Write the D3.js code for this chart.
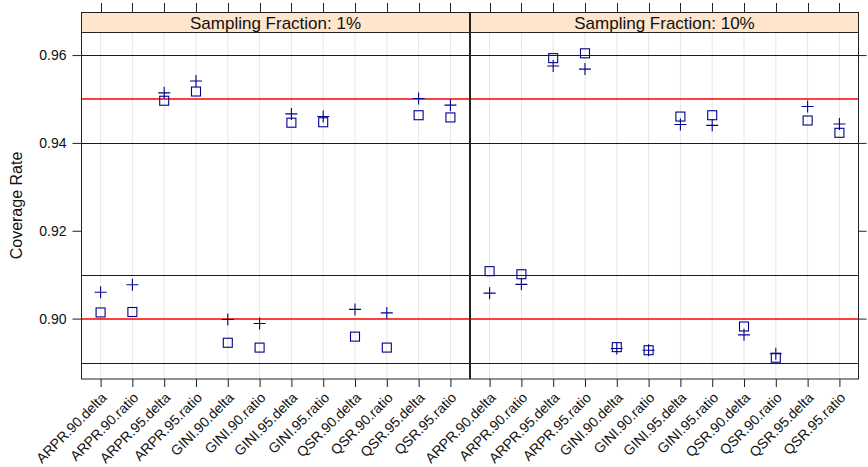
<!DOCTYPE html>
<html>
<head>
<meta charset="utf-8">
<script src="https://cdn.jsdelivr.net/npm/d3@7"></script>
<style>
  html, body { margin: 0; padding: 0; background: #ffffff; }
  svg, svg text { font-family: "Liberation Sans", Arial, Helvetica, sans-serif; }
  svg { display: block; }
</style>
</head>
<body>
<svg id="chart" width="868" height="467"></svg>
<script>
// Interval estimators (indicator . level . method)
const categories = [
  "ARPR.90.delta", "ARPR.90.ratio", "ARPR.95.delta", "ARPR.95.ratio",
  "GINI.90.delta", "GINI.90.ratio", "GINI.95.delta", "GINI.95.ratio",
  "QSR.90.delta", "QSR.90.ratio", "QSR.95.delta", "QSR.95.ratio"
];
const panelTitles = ["Sampling Fraction: 1%", "Sampling Fraction: 10%"];

// Coverage rates, sampling fraction 1%
const plus1   = [0.9060, 0.9077, 0.9514, 0.9541, 0.8998, 0.8989, 0.9466, 0.9460, 0.9021, 0.9013, 0.9501, 0.9486];
const square1 = [0.9014, 0.9015, 0.9496, 0.9517, 0.8945, 0.8934, 0.9446, 0.9447, 0.8959, 0.8934, 0.9463, 0.9458];
// Coverage rates, sampling fraction 10%
const plus10   = [0.9058, 0.9078, 0.9575, 0.9568, 0.8932, 0.8928, 0.9442, 0.9440, 0.8963, 0.8920, 0.9483, 0.9443];
const square10 = [0.9108, 0.9101, 0.9593, 0.9604, 0.8935, 0.8928, 0.9460, 0.9463, 0.8982, 0.8911, 0.9451, 0.9423];

const yTicks = [0.90, 0.92, 0.94, 0.96];
const blackRefs = [0.89, 0.91, 0.94, 0.96];
const redRefs = [0.90, 0.95];

const panels = [
  { title: panelTitles[0], plus: plus1, square: square1 },
  { title: panelTitles[1], plus: plus10, square: square10 }
];

const svg = d3.select("#chart");

const plotTop = 32, plotBottom = 379, stripTop = 12;
const panelX = [[81.5, 469.5], [470.5, 858.5]];

// y range: data extent padded by 7% on each side
const allVals = [].concat(plus1, square1, plus10, square10);
const [vmin, vmax] = d3.extent(allVals);
const pad = (vmax - vmin) * 0.07;
const y = d3.scaleLinear().domain([vmin - pad, vmax + pad]).range([plotBottom, plotTop]);

const markCol = "#00008B";
const fontTick = 14;
const FONT = '"Liberation Sans", Arial, Helvetica, sans-serif';

panels.forEach((p, i) => {
  const [x0, x1] = panelX[i];
  const x = d3.scalePoint().domain(categories).range([x0, x1]).padding(0.6);
  const g = svg.append("g");

  // vertical grid
  g.selectAll("line.grid").data(categories).join("line").attr("class", "grid")
    .attr("x1", d => x(d)).attr("x2", d => x(d))
    .attr("y1", plotTop).attr("y2", plotBottom)
    .attr("stroke", "#e6e6e6").attr("stroke-width", 1);

  // reference lines
  g.selectAll("line.ref-black").data(blackRefs).join("line").attr("class", "ref-black")
    .attr("x1", x0).attr("x2", x1)
    .attr("y1", d => Math.round(y(d)) + 0.5).attr("y2", d => Math.round(y(d)) + 0.5)
    .style("stroke", "#1a1a1a").style("stroke-width", 1);
  g.selectAll("line.ref-red").data(redRefs).join("line").attr("class", "ref-red")
    .attr("x1", x0).attr("x2", x1)
    .attr("y1", d => Math.round(y(d)))
    .attr("y2", d => Math.round(y(d)))
    .style("stroke", "rgb(255,0,0)").style("stroke-width", 1.4);

  // squares
  g.selectAll("rect.sq").data(categories.map((c, k) => [c, p.square[k]])).join("rect").attr("class", "sq")
    .attr("x", d => x(d[0]) - 4.5).attr("y", d => y(d[1]) - 4.5)
    .attr("width", 9).attr("height", 9)
    .attr("fill", "none").attr("stroke", markCol).attr("stroke-width", 1.1);

  // crosses
  g.selectAll("path.pl").data(categories.map((c, k) => [c, p.plus[k]])).join("path").attr("class", "pl")
    .attr("d", d => `M${x(d[0]) - 6},${y(d[1])}H${x(d[0]) + 6}M${x(d[0])},${y(d[1]) - 6}V${y(d[1]) + 6}`)
    .attr("fill", "none").attr("stroke", markCol).attr("stroke-width", 1.1);

  // panel border
  g.append("rect").attr("x", x0).attr("y", plotTop + 0.5)
    .attr("width", x1 - x0).attr("height", plotBottom - plotTop - 0.5)
    .attr("fill", "none").attr("stroke", "#222").attr("stroke-width", 1);

  // strip
  g.append("rect").attr("x", x0).attr("y", stripTop + 0.5)
    .attr("width", x1 - x0).attr("height", plotTop - stripTop)
    .attr("fill", "#ffe5cc").attr("stroke", "#222").attr("stroke-width", 1);
  g.append("text").attr("x", (x0 + x1) / 2).attr("y", (stripTop + plotTop) / 2 + 1)
    .attr("text-anchor", "middle").attr("dominant-baseline", "central")
    .attr("font-family", FONT)
    .attr("font-size", 17).attr("fill", "#111").text(p.title);

  // top ticks
  g.selectAll("line.ttick").data(categories).join("line").attr("class", "ttick")
    .attr("x1", d => Math.round(x(d)) + 0.5).attr("x2", d => Math.round(x(d)) + 0.5)
    .attr("y1", 3).attr("y2", stripTop)
    .attr("stroke", "#222");

  // bottom axis with rotated labels
  const xAxis = g.append("g").attr("transform", `translate(0,${plotBottom})`)
    .call(d3.axisBottom(x).tickSize(8).tickSizeOuter(0))
    .attr("font-family", FONT).attr("font-size", fontTick);
  xAxis.select(".domain").remove();
  xAxis.selectAll(".tick line").attr("stroke", "#222");
  xAxis.selectAll(".tick text")
    .attr("fill", "#111")
    .attr("text-anchor", "end")
    .attr("dy", "0.35em").attr("y", 0)
    .attr("transform", "translate(3,16) rotate(-45)");
});

// left y axis
const yAxisL = svg.append("g").attr("transform", `translate(${panelX[0][0]},0)`)
  .call(d3.axisLeft(y).tickValues(yTicks).tickFormat(d3.format(".2f")).tickSize(9).tickPadding(6).tickSizeOuter(0))
  .attr("font-family", FONT).attr("font-size", fontTick);
yAxisL.select(".domain").remove();
yAxisL.selectAll(".tick line").attr("stroke", "#222");
yAxisL.selectAll(".tick text").attr("fill", "#111");

// right y ticks, no labels
const yAxisR = svg.append("g").attr("transform", `translate(${panelX[1][1]},0)`)
  .call(d3.axisRight(y).tickValues(yTicks).tickFormat("").tickSize(8).tickSizeOuter(0));
yAxisR.select(".domain").remove();
yAxisR.selectAll(".tick line").attr("stroke", "#222");

// y axis title
svg.append("text")
  .attr("transform", `translate(16,${(plotTop + plotBottom) / 2}) rotate(-90)`)
  .attr("text-anchor", "middle").attr("dominant-baseline", "central")
  .attr("font-family", FONT)
  .attr("font-size", 16).attr("fill", "#111").text("Coverage Rate");
</script>
</body>
</html>
